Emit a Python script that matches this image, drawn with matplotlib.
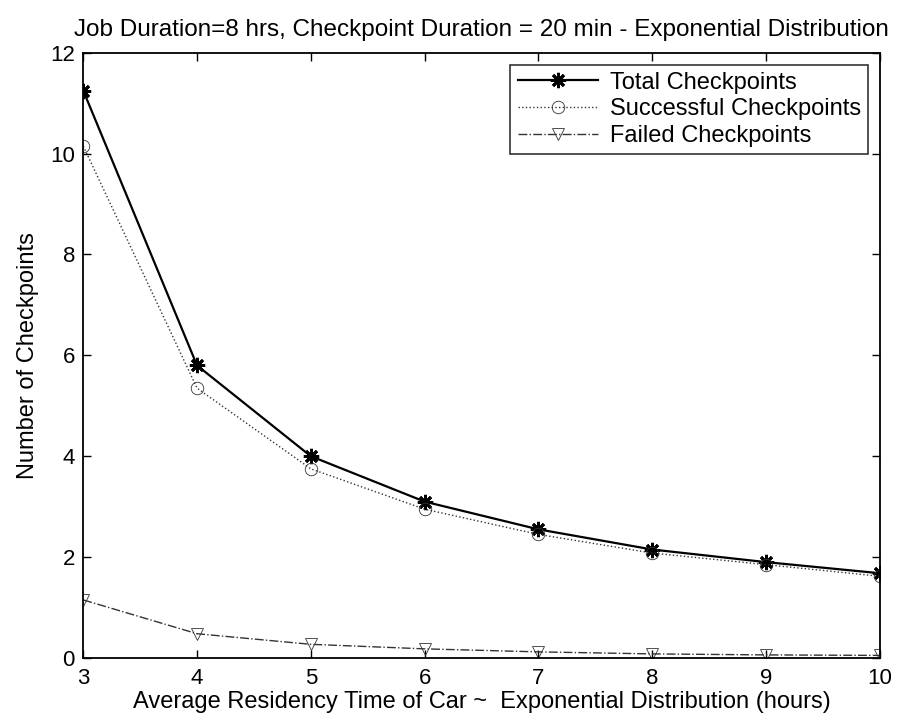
import matplotlib
matplotlib.use("Agg")
import matplotlib.pyplot as plt

plt.rcParams['font.family'] = ['Liberation Sans', 'DejaVu Sans']

residency = [3, 4, 5, 6, 7, 8, 9, 10]
total = [11.25, 5.8, 4.0, 3.1, 2.55, 2.15, 1.9, 1.68]
successful = [10.15, 5.35, 3.75, 2.95, 2.45, 2.08, 1.85, 1.62]
failed = [1.15, 0.48, 0.27, 0.18, 0.12, 0.08, 0.06, 0.05]

fig = plt.figure(figsize=(9.05, 7.23), dpi=100)
ax = fig.add_axes([0.092, 0.09, 0.880, 0.837])

# MATLAB-style asterisk marker: 8 spokes
ax.plot(residency, total, color='black', linestyle='-', linewidth=1.6,
        marker=(8, 2, 0), markersize=11, markeredgewidth=2.0,
        label='Total Checkpoints')
ax.plot(residency, successful, color='#333333', linestyle=':', linewidth=1.0,
        marker='o', markersize=9, markerfacecolor='none', markeredgewidth=0.6,
        label='Successful Checkpoints')
ax.plot(residency, failed, color='#333333', linestyle='-.', linewidth=1.0,
        marker='v', markersize=9, markerfacecolor='none', markeredgewidth=0.6,
        label='Failed Checkpoints')

ax.set_xlim(3, 10)
ax.set_ylim(0, 12)
ax.set_xticks(residency)
ax.set_yticks([0, 2, 4, 6, 8, 10, 12])
ax.tick_params(direction='in', length=6, width=1, labelsize=16, top=True, right=True)
ax.tick_params(axis='x', pad=7)
ax.tick_params(axis='y', pad=6)
for s in ax.spines.values():
    s.set_linewidth(1.3)

ax.set_xlabel('Average Residency Time of Car ~  Exponential Distribution (hours)',
              fontsize=17, labelpad=2)
ax.set_ylabel('Number of Checkpoints', fontsize=17, labelpad=8)
ax.set_title('Job Duration=8 hrs, Checkpoint Duration = 20 min - Exponential Distribution',
             fontsize=17.5, pad=12)

leg = ax.legend(loc='upper right', fontsize=17, frameon=True, fancybox=False,
                edgecolor='black', borderaxespad=0.5, handlelength=3.4,
                handletextpad=0.5, labelspacing=0.2, borderpad=0.3)
leg.get_frame().set_linewidth(1.2)

fig.savefig('out.png', dpi=100)
